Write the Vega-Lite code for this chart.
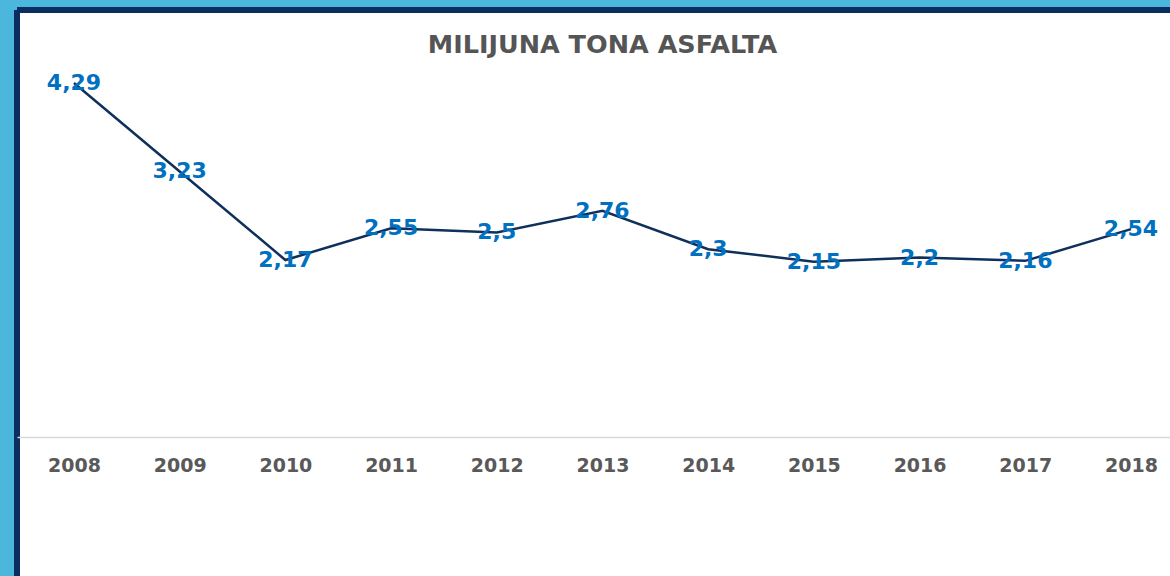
{
  "$schema": "https://vega.github.io/schema/vega-lite/v6.json",
  "width": 1153,
  "height": 566,
  "autosize": {"type": "none"},
  "padding": {"left": 17, "top": 10, "right": 0, "bottom": 0},
  "background": "#4cb7dd",
  "title": {
    "text": "MILIJUNA TONA ASFALTA",
    "font": "DejaVu Sans",
    "fontSize": 25.5,
    "fontWeight": "bold",
    "color": "#555555",
    "anchor": "middle",
    "dx": 9,
    "dy": 52
  },
  "data": {
    "values": [
      {"year": 2008, "value": 4.29, "label": "4,29"},
      {"year": 2009, "value": 3.23, "label": "3,23"},
      {"year": 2010, "value": 2.17, "label": "2,17"},
      {"year": 2011, "value": 2.55, "label": "2,55"},
      {"year": 2012, "value": 2.5, "label": "2,5"},
      {"year": 2013, "value": 2.76, "label": "2,76"},
      {"year": 2014, "value": 2.3, "label": "2,3"},
      {"year": 2015, "value": 2.15, "label": "2,15"},
      {"year": 2016, "value": 2.2, "label": "2,2"},
      {"year": 2017, "value": 2.16, "label": "2,16"},
      {"year": 2018, "value": 2.54, "label": "2,54"}
    ]
  },
  "encoding": {
    "x": {
      "field": "year",
      "type": "quantitative",
      "scale": {"domain": [2007.461, 2018.369], "nice": false, "zero": false},
      "axis": {
        "values": [2008, 2009, 2010, 2011, 2012, 2013, 2014, 2015, 2016, 2017, 2018],
        "format": "d",
        "orient": "bottom",
        "offset": -139,
        "domainColor": "#d9d9d9",
        "domainWidth": 1.5,
        "ticks": false,
        "tickSize": 0,
        "grid": false,
        "labelFont": "DejaVu Sans",
        "labelFontSize": 19,
        "labelFontWeight": "bold",
        "labelColor": "#595959",
        "labelPadding": 19,
        "labelFlush": false,
        "title": null
      }
    },
    "y": {
      "field": "value",
      "type": "quantitative",
      "scale": {"domain": [-1.614, 5.164], "nice": false, "zero": false},
      "axis": null
    }
  },
  "layer": [
    {"mark": {"type": "line", "color": "#10305c", "strokeWidth": 2.5}},
    {
      "mark": {"type": "text", "font": "DejaVu Sans", "fontSize": 22, "fontWeight": "bold", "color": "#0070c0", "baseline": "middle"},
      "encoding": {"text": {"field": "label"}}
    }
  ],
  "config": {
    "view": {"fill": "white", "stroke": "#0b2d5f", "strokeWidth": 6, "strokeDash": [1153, 1719, 566, 0]}
  }
}
